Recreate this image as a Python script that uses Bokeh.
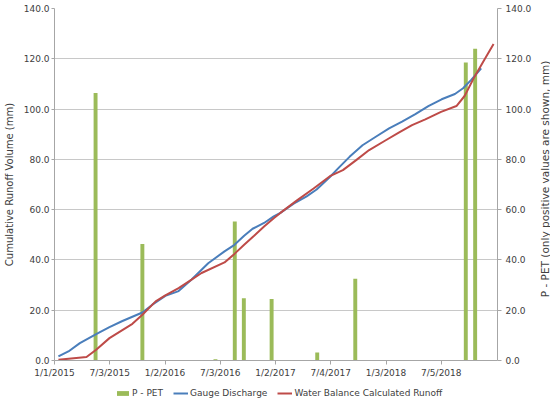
import math
import pandas as pd
from bokeh.plotting import figure
from bokeh.layouts import row, column
from bokeh.models import (LinearAxis, Range1d, FixedTicker, NumeralTickFormatter,
                          Legend, LegendItem, Label)
from bokeh.embed import file_html
from bokeh.resources import INLINE

# ---------------- data ----------------
start_date = "2015-01-01"
end_date = "2019-01-07"
x_tick_labels = ["1/1/2015", "7/3/2015", "1/2/2016", "7/3/2016",
                 "1/2/2017", "7/4/2017", "1/3/2018", "7/5/2018"]
y_ticks = [0, 20, 40, 60, 80, 100, 120, 140]

pet_dates = ["2015-05-17", "2015-10-19", "2016-06-17", "2016-08-20", "2016-09-19",
             "2016-12-20", "2017-05-20", "2017-09-23", "2018-09-24", "2018-10-25"]
pet_values = [106.4, 46.3, 0.5, 55.3, 24.8, 24.5, 3.2, 32.5, 118.5, 124.0]

gauge_dates = ["2015-01-14", "2015-02-16", "2015-03-26", "2015-05-19", "2015-07-02",
               "2015-08-14", "2015-10-19", "2015-11-21", "2016-01-03", "2016-02-16",
               "2016-03-30", "2016-05-24", "2016-07-17", "2016-08-19", "2016-09-20",
               "2016-10-18", "2016-11-25", "2016-12-27", "2017-01-18", "2017-03-03",
               "2017-04-15", "2017-05-18", "2017-07-01", "2017-08-02", "2017-09-04",
               "2017-10-17", "2017-11-30", "2018-01-13", "2018-02-25", "2018-04-10",
               "2018-05-23", "2018-07-06", "2018-08-19", "2018-09-15", "2018-10-12",
               "2018-11-14"]
gauge_values = [1.6, 3.6, 6.9, 10.5, 13.3, 15.7, 19.1, 22.2, 25.7, 27.6,
                32.2, 38.7, 43.4, 46.0, 49.6, 52.4, 54.7, 57.3, 58.7, 62.4,
                65.3, 68.0, 73.0, 77.0, 81.0, 85.6, 89.0, 92.3, 95.0, 98.0,
                101.2, 103.9, 106.0, 108.3, 111.6, 116.2]

wb_dates = ["2015-01-14", "2015-04-17", "2015-05-19", "2015-07-02", "2015-09-16",
            "2015-10-19", "2015-12-02", "2016-01-03", "2016-02-16", "2016-03-20",
            "2016-05-02", "2016-07-17", "2016-08-19", "2016-09-20", "2016-10-23",
            "2016-11-25", "2016-12-27", "2017-01-18", "2017-03-14", "2017-05-08",
            "2017-07-01", "2017-08-13", "2017-09-26", "2017-11-08", "2018-01-02",
            "2018-02-14", "2018-03-30", "2018-05-13", "2018-07-04", "2018-08-24",
            "2018-09-20", "2018-10-23", "2018-11-24", "2018-12-25"]
wb_values = [0.3, 1.4, 4.3, 8.9, 14.6, 18.2, 23.5, 25.9, 28.8, 31.4,
             34.8, 39.0, 42.4, 46.0, 49.6, 53.3, 56.6, 58.7, 63.7, 68.4,
             73.3, 75.7, 79.7, 83.7, 87.6, 90.6, 93.6, 95.9, 98.9, 101.2,
             105.2, 112.9, 119.5, 125.9]

left_title = "Cumulative Runoff Volume (mm)"
right_title = "P - PET (only positive values are shown, mm)"
legend_labels = ["P - PET", "Gauge Discharge", "Water Balance Calculated Runoff"]

# ---------------- styling ----------------
TEXT = "#404040"
AXIS = "#a6a6a6"
GRID = "#c8c8c8"
FONT = "DejaVu Sans"
GREEN, BLUE, RED = "#9bbb59", "#4a7ebb", "#be4b48"

t0 = pd.Timestamp(start_date)


def to_days(ds):
    return [(pd.Timestamp(d) - t0).days for d in ds]


tick_days = [(pd.to_datetime(s, format="%m/%d/%Y") - t0).days for s in x_tick_labels]
x_end = (pd.Timestamp(end_date) - t0).days

MAIN_W, MAIN_H = 534, 380
TOP, BOTTOM = 8, 20


def draw_series(fig, y_name):
    b = fig.vbar(x=to_days(pet_dates), top=pet_values, bottom=0, width=13,
                 y_range_name=y_name, fill_color=GREEN, line_color=None)
    g = fig.line(to_days(gauge_dates), gauge_values, line_color=BLUE, line_width=2)
    r = fig.line(to_days(wb_dates), wb_values, line_color=RED, line_width=2)
    return b, g, r


# ---------------- main chart ----------------
p = figure(width=MAIN_W, height=MAIN_H, output_backend="svg", toolbar_location=None,
           x_range=Range1d(0, x_end), y_range=Range1d(0, 140),
           min_border_left=51, min_border_right=34, min_border_top=TOP,
           min_border_bottom=BOTTOM)
p.extra_y_ranges = {"sec": Range1d(0, 140)}
p.outline_line_color = None
p.background_fill_color = "white"
p.border_fill_color = "white"

draw_series(p, "sec")

xa = p.xaxis[0]
xa.axis_label = None
xa.ticker = FixedTicker(ticks=tick_days)
xa.major_label_overrides = {d: s for d, s in zip(tick_days, x_tick_labels)}

ya = p.yaxis[0]
ya.ticker = FixedTicker(ticks=y_ticks)
ya.formatter = NumeralTickFormatter(format="0.0")
ya.axis_label = left_title
ya.axis_label_text_font_size = "10px"
ya.axis_label_standoff = 6

ra = LinearAxis(y_range_name="sec", ticker=FixedTicker(ticks=y_ticks),
                formatter=NumeralTickFormatter(format="0.0"))
p.add_layout(ra, "right")

for ax in (xa, ya, ra):
    ax.axis_line_color = AXIS
    ax.major_tick_line_color = AXIS
    ax.major_tick_out = 4
    ax.major_tick_in = 0
    ax.minor_tick_line_color = None
    ax.major_label_text_font = FONT
    ax.major_label_text_font_size = "9px"
    ax.major_label_text_color = TEXT
    ax.major_label_standoff = 3
    ax.axis_label_text_font = FONT
    ax.axis_label_text_font_style = "normal"
    ax.axis_label_text_color = TEXT
ya.major_tick_out = 3
ya.major_label_standoff = 2
ra.major_label_standoff = 4

p.xgrid.visible = False
p.ygrid.ticker = FixedTicker(ticks=y_ticks)
p.ygrid.grid_line_color = GRID

# ---------------- right axis title (reads bottom to top) ----------------
TW = 550 - MAIN_W
pt = figure(width=TW, height=MAIN_H, output_backend="svg", toolbar_location=None,
            x_range=Range1d(0, TW), y_range=Range1d(0, MAIN_H),
            x_axis_location=None, y_axis_location=None,
            min_border_left=0, min_border_right=0, min_border_top=0,
            min_border_bottom=0)
pt.outline_line_color = None
pt.grid.visible = False
frame_mid = TOP + (MAIN_H - TOP - BOTTOM) / 2
pt.add_layout(Label(x=10, y=MAIN_H - frame_mid, text=right_title, angle=math.pi / 2,
                    text_align="center", text_baseline="middle", text_font=FONT,
                    text_font_size="10.5px", text_color=TEXT))

# ---------------- legend strip ----------------
# the same series are drawn here but the view window lies outside the data,
# so only the legend shows
LH = 22
pl = figure(width=550, height=LH, output_backend="svg", toolbar_location=None,
            x_range=Range1d(-1000, -999), y_range=Range1d(-1000, -999),
            x_axis_location=None, y_axis_location=None,
            min_border_left=0, min_border_right=0, min_border_top=0,
            min_border_bottom=0)
pl.extra_y_ranges = {"sec": Range1d(-1000, -999)}
pl.outline_line_color = None
pl.grid.visible = False
lg_bar, lg_blue, lg_red = draw_series(pl, "sec")
legend = Legend(items=[LegendItem(label=legend_labels[0], renderers=[lg_bar]),
                       LegendItem(label=legend_labels[1], renderers=[lg_blue]),
                       LegendItem(label=legend_labels[2], renderers=[lg_red])],
                orientation="horizontal", location=(115, 4),
                label_text_font=FONT, label_text_font_size="9px",
                label_text_color=TEXT, glyph_width=15, glyph_height=6,
                label_height=10, label_standoff=2, spacing=10, padding=0,
                margin=0, border_line_color=None, background_fill_alpha=0)
pl.add_layout(legend)

layout = column(row(p, pt), pl)
open("out.html", "w").write(file_html(layout, INLINE))
